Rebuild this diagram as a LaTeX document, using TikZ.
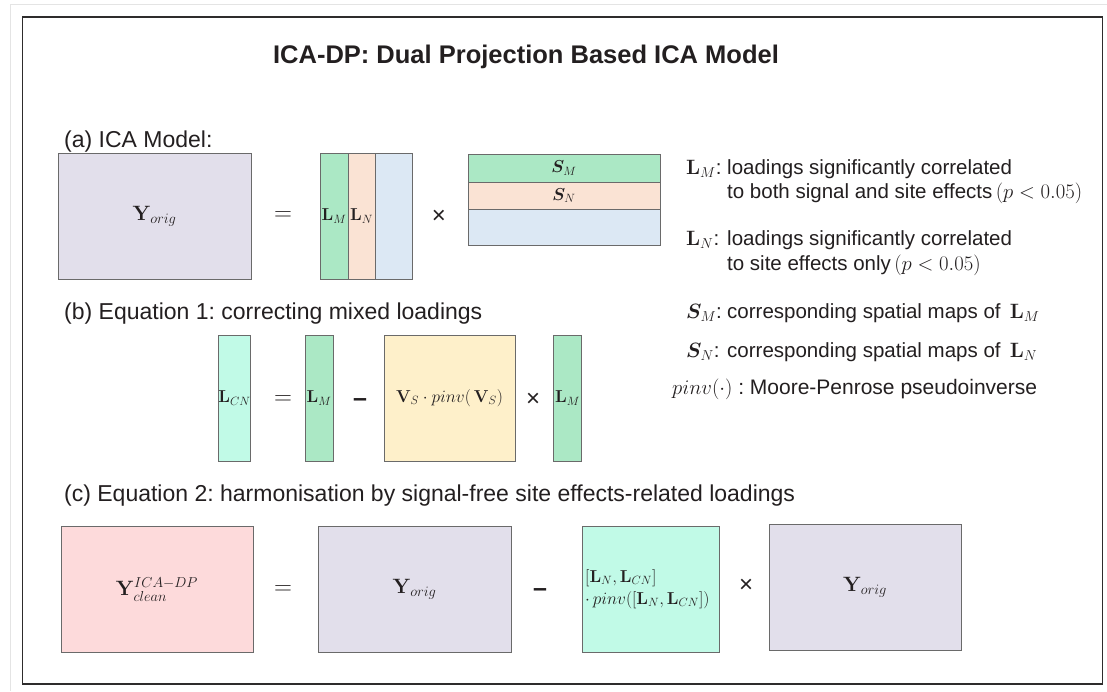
\documentclass[tikz,border=0pt]{standalone}
\usepackage{amsmath}
\usepackage{bm}
\usepackage[no-math]{fontspec}
\setmainfont{Liberation Sans}
\frenchspacing
\definecolor{lav}{HTML}{E2DFEB}
\definecolor{grn}{HTML}{ABE8C5}
\definecolor{pch}{HTML}{FAE3D4}
\definecolor{blu}{HTML}{DCE8F4}
\definecolor{mnt}{HTML}{C1FAE7}
\definecolor{ylw}{HTML}{FEF0CA}
\definecolor{pnk}{HTML}{FDDADB}
\definecolor{edge}{HTML}{6A6A6A}
\definecolor{ink}{HTML}{231F20}
\definecolor{framec}{HTML}{2E2C2C}
\definecolor{pagec}{HTML}{E4E4E4}
\begin{document}
\begin{tikzpicture}[x=1pt,y=-1pt,
  every node/.style={text=ink},
  mat/.style={draw=edge, line width=0.9pt, inner sep=0pt, font=\fontsize{20}{24}\selectfont},
  strip/.style={mat, font=\fontsize{17}{20}\selectfont},
  wh/.style 2 args={minimum width=#1, minimum height=#2},
  op/.style={inner sep=0pt, font=\fontsize{24}{28}\selectfont},
  sign/.style={inner sep=0pt, font=\bfseries\fontsize{25}{30}\selectfont},
  head/.style={anchor=base west, inner sep=0pt, font=\fontsize{23}{27}\selectfont},
  lgd/.style={anchor=base west, inner sep=0pt, font=\fontsize{20.5}{24}\selectfont},
]
\useasboundingbox (0,0) rectangle (1107,691);
\fill[white] (0,0) rectangle (1107,691);
% page edge and outer frame
\draw[pagec, line width=1pt] (10.5,691) -- (10.5,4.5) -- (1107,4.5);
\draw[framec, line width=1.6pt] (22.5,17) rectangle (1102.5,684);

% title
\node[font=\bfseries\fontsize{25.5}{30}\selectfont, inner sep=0pt] (title) at (526,57) {ICA-DP: Dual Projection Based ICA Model};

% (a) ICA model
\node[head] (ha) at (64,147) {(a) ICA Model:};
\node[mat, fill=lav, wh={193pt}{126pt}] (Ya) at (154.5,216) {$\mathbf{Y}_{orig}$};
\node[op] (eqa) at (283,216) {$=$};
\node[strip, fill=grn, wh={28pt}{126pt}] (LMa) at (334,216) {$\mathbf{L}_M$};
\node[strip, fill=pch, wh={27pt}{126pt}] (LNa) at (361.5,216) {$\mathbf{L}_N$};
\node[strip, fill=blu, wh={37pt}{126pt}] (LRa) at (393.5,216) {};
\node[op] (xa) at (439,217) {×};
\node[strip, fill=grn, wh={192pt}{28pt}] (SM) at (564,168) {$\bm{S}_M$};
\node[strip, fill=pch, wh={192pt}{27pt}] (SN) at (564,195.5) {$\bm{S}_N$};
\node[strip, fill=blu, wh={192pt}{36pt}] (SR) at (564,227) {};

% legend
\node[lgd] (k1) at (686,174) {$\mathbf{L}_M$:};
\node[lgd] (k1a) at (727,174) {loadings significantly correlated};
\node[lgd] (k1b) at (727,198) {to both signal and site effects\,$(p<0.05)$};
\node[lgd] (k2) at (686,245) {$\mathbf{L}_N$:};
\node[lgd] (k2a) at (727,245) {loadings significantly correlated};
\node[lgd] (k2b) at (727,270) {to site effects only\,$(p<0.05)$};
\node[lgd] (k3) at (686,318) {$\bm{S}_M$:};
\node[lgd] (k3a) at (727,318) {corresponding spatial maps of\,\ $\mathbf{L}_M$};
\node[lgd] (k4) at (686,357) {$\bm{S}_N$:};
\node[lgd] (k4a) at (727,357) {corresponding spatial maps of\,\ $\mathbf{L}_N$};
\node[lgd, font=\fontsize{21}{24}\selectfont] (k5) at (672,394) {$pinv(\cdot)$ : Moore-Penrose pseudoinverse};

% (b) equation 1
\node[head] (hb) at (64,319) {(b) Equation 1: correcting mixed loadings};
\node[strip, fill=mnt, wh={29pt}{126pt}] (LCN) at (234.5,398) {$\mathbf{L}_{CN}$};
\node[op] (eqb) at (283,400) {$=$};
\node[strip, fill=grn, wh={28pt}{126pt}] (LMb) at (319,398) {$\mathbf{L}_M$};
\node[sign] (mb) at (360,403) {–};
\node[mat, fill=ylw, wh={131pt}{126pt}, font=\fontsize{17}{20}\selectfont] (V) at (449.5,398) {$\mathbf{V}_S\cdot pinv(\,\mathbf{V}_S)$};
\node[op] (xb) at (533,400) {×};
\node[strip, fill=grn, wh={28pt}{126pt}] (LMc) at (567.5,398) {$\mathbf{L}_M$};

% (c) equation 2
\node[head] (hc) at (64,501) {(c) Equation 2: harmonisation by signal-free site effects-related loadings};
\node[mat, fill=pnk, wh={192pt}{126pt}] (Yc) at (157,589.5) {$\mathbf{Y}^{ICA-DP}_{clean}$};
\node[op] (eqc) at (283,590) {$=$};
\node[mat, fill=lav, wh={193pt}{126pt}] (Yo) at (414.5,589) {$\mathbf{Y}_{orig}$};
\node[sign] (mc) at (540,593) {–};
\node[mat, fill=mnt, wh={137pt}{126pt}] (P) at (650.5,589) {};
\node[anchor=west, align=left, inner sep=0pt, font=\fontsize{18.5}{22}\selectfont] (Pt) at (585,589) {$[\mathbf{L}_N,\mathbf{L}_{CN}]$\\$\cdot\,pinv([\mathbf{L}_N,\mathbf{L}_{CN}])$};
\node[op] (xc) at (746,586) {×};
\node[mat, fill=lav, wh={192pt}{126pt}] (Yo2) at (865,587) {$\mathbf{Y}_{orig}$};
\end{tikzpicture}
\end{document}
